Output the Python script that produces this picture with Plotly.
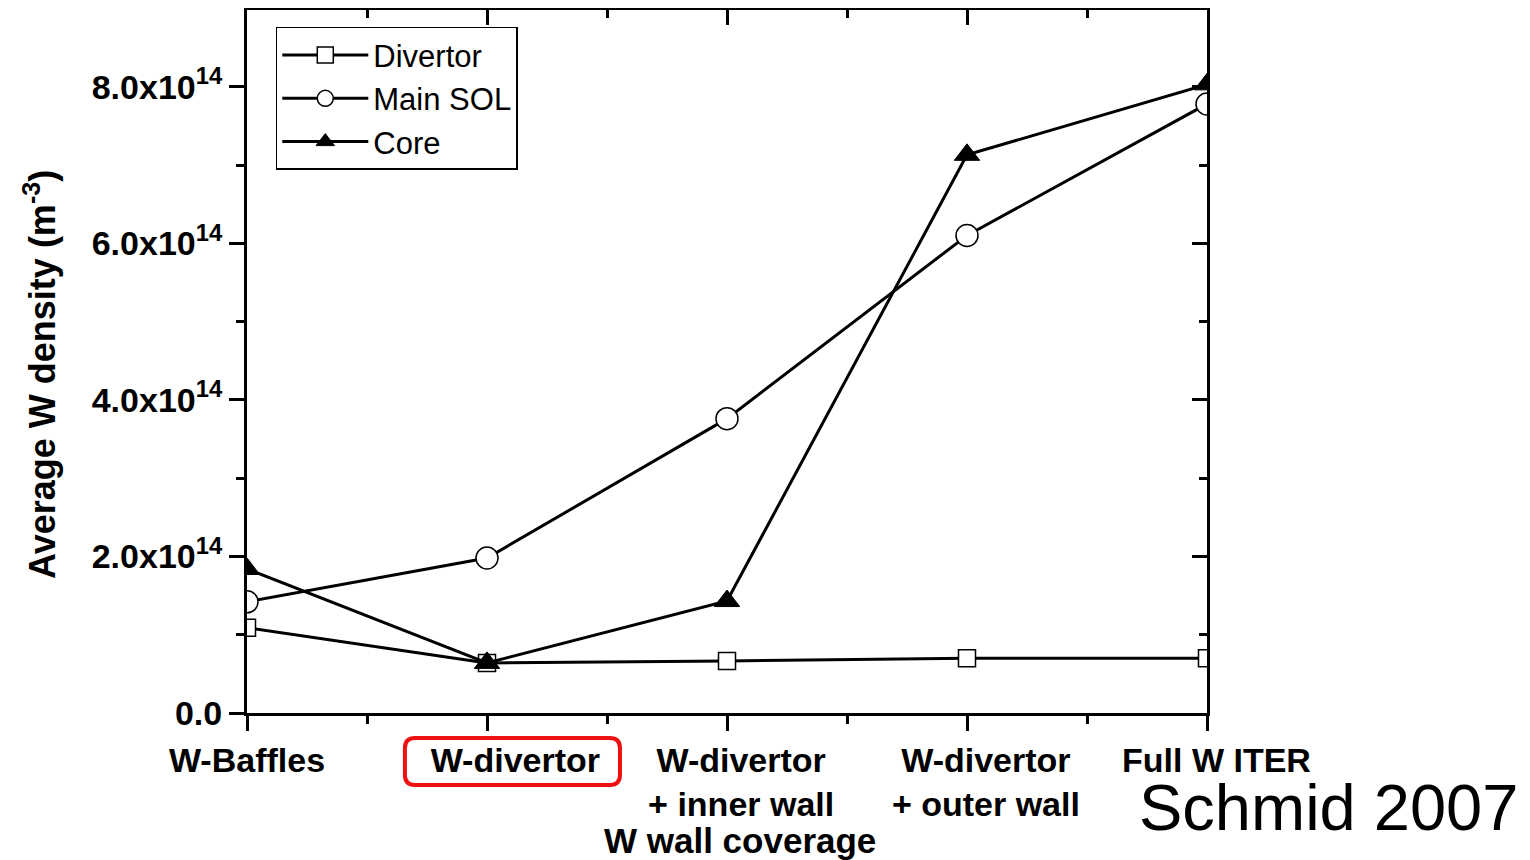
import plotly.graph_objects as go

categories = ["W-Baffles", "W-divertor", "W-divertor<br>+ inner wall", "W-divertor<br>+ outer wall", "Full W ITER"]
label_pad = [0, 6, 3, 4, 2]  # non-breaking spaces: labels sit a little right of their ticks in the original
x_pos = [0, 1, 2, 3, 4]
divertor = [1.09e14, 0.64e14, 0.665e14, 0.70e14, 0.70e14]
main_sol = [1.42e14, 1.98e14, 3.76e14, 6.10e14, 7.78e14]
core = [1.84e14, 0.64e14, 1.43e14, 7.13e14, 8.03e14]
y_tickvals = [0, 2e14, 4e14, 6e14, 8e14]
y_ticktext = ["0.0", "2.0x10<sup>14</sup>", "4.0x10<sup>14</sup>", "6.0x10<sup>14</sup>", "8.0x10<sup>14</sup>"]

FONT = "Liberation Sans"
YMAX = 8.98e14

x_ticktext = ["<br>".join("\u00a0" * p + part for part in lab.split("<br>"))
              for lab, p in zip(categories, label_pad)]

fig = go.Figure()
line = dict(color="black", width=3)
fig.add_trace(go.Scatter(x=x_pos, y=divertor, name="Divertor", mode="lines+markers", line=line,
                         marker=dict(symbol="square", size=17, color="white", line=dict(color="black", width=1.5))))
fig.add_trace(go.Scatter(x=x_pos, y=main_sol, name="Main SOL", mode="lines+markers", line=line,
                         marker=dict(symbol="circle", size=22, color="white", line=dict(color="black", width=1.5))))
fig.add_trace(go.Scatter(x=x_pos, y=core, name="Core", mode="lines+markers", line=line,
                         marker=dict(symbol="triangle-up", size=22, color="black", line=dict(color="black", width=1))))
# dummy trace for mirrored axes with inward ticks
fig.add_trace(go.Scatter(x=[None], y=[None], xaxis="x2", yaxis="y2", showlegend=False, hoverinfo="skip"))

tickfont = dict(family=FONT, size=34, weight="bold", color="black")

fig.update_layout(
    width=1522, height=852,
    margin=dict(l=239, r=323, t=2, b=147),
    paper_bgcolor="white", plot_bgcolor="white",
    font=dict(family=FONT, color="black"),
    showlegend=True,
    legend=dict(x=0.03, y=0.976, xanchor="left", yanchor="top",
                bordercolor="black", borderwidth=1.5, bgcolor="white",
                font=dict(family=FONT, size=31, color="black"),
                itemwidth=86, tracegroupgap=0),
    xaxis=dict(range=[0, 4], tickmode="array", tickvals=x_pos, ticktext=x_ticktext,
               showgrid=False, zeroline=False, showline=True, linecolor="black", linewidth=3, mirror=True,
               ticks="outside", ticklen=15, tickwidth=3, tickcolor="black",
               minor=dict(dtick=0.5, ticks="outside", ticklen=8, tickwidth=2.5, tickcolor="black", showgrid=False),
               tickfont=tickfont, automargin=False),
    yaxis=dict(range=[0, YMAX], tickmode="array", tickvals=y_tickvals, ticktext=y_ticktext,
               showgrid=False, zeroline=False, showline=True, linecolor="black", linewidth=3, mirror=True,
               ticks="outside", ticklen=15, tickwidth=3, tickcolor="black",
               minor=dict(dtick=1e14, tick0=0, ticks="outside", ticklen=8, tickwidth=2.5, tickcolor="black", showgrid=False),
               tickfont=tickfont, automargin=False),
    xaxis2=dict(overlaying="x", side="top", range=[0, 4], tickmode="array", tickvals=x_pos,
                showticklabels=False, showgrid=False, zeroline=False, showline=False,
                ticks="inside", ticklen=15, tickwidth=3, tickcolor="black",
                minor=dict(dtick=0.5, ticks="inside", ticklen=8, tickwidth=2.5, tickcolor="black", showgrid=False)),
    yaxis2=dict(overlaying="y", side="right", range=[0, YMAX], tickmode="array", tickvals=y_tickvals,
                showticklabels=False, showgrid=False, zeroline=False, showline=False,
                ticks="inside", ticklen=15, tickwidth=3, tickcolor="black",
                minor=dict(dtick=1e14, tick0=0, ticks="inside", ticklen=8, tickwidth=2.5, tickcolor="black", showgrid=False)),
)

# axis titles
fig.add_annotation(text="W wall coverage", xref="paper", yref="paper", x=0.5135, y=-0.1807,
                   xanchor="center", yanchor="middle", showarrow=False,
                   font=dict(family=FONT, size=35, weight="bold", color="black"))
fig.add_annotation(text="Average W density (m<sup>-3</sup>)", xref="paper", yref="paper", x=-0.2156, y=0.481,
                   xanchor="center", yanchor="middle", showarrow=False, textangle=-90,
                   font=dict(family=FONT, size=36, weight="bold", color="black"))

# red rounded highlight box around "W-divertor"
x0, x1 = 0.658, 1.554
y0, y1 = -0.1024, -0.0356
rx, ry = 0.042, 0.0142
path = (f"M {x0+rx},{y1} L {x1-rx},{y1} Q {x1},{y1} {x1},{y1-ry} "
        f"L {x1},{y0+ry} Q {x1},{y0} {x1-rx},{y0} L {x0+rx},{y0} Q {x0},{y0} {x0},{y0+ry} "
        f"L {x0},{y1-ry} Q {x0},{y1} {x0+rx},{y1} Z")
fig.add_shape(type="path", path=path, xref="x", yref="paper", line=dict(color="#ee1111", width=4))

fig.add_annotation(text="Schmid 2007", xref="paper", yref="paper", x=1.326, y=-0.135,
                   xanchor="right", yanchor="middle", showarrow=False,
                   font=dict(family=FONT, size=65, color="black"))

fig.write_html("out.html")
